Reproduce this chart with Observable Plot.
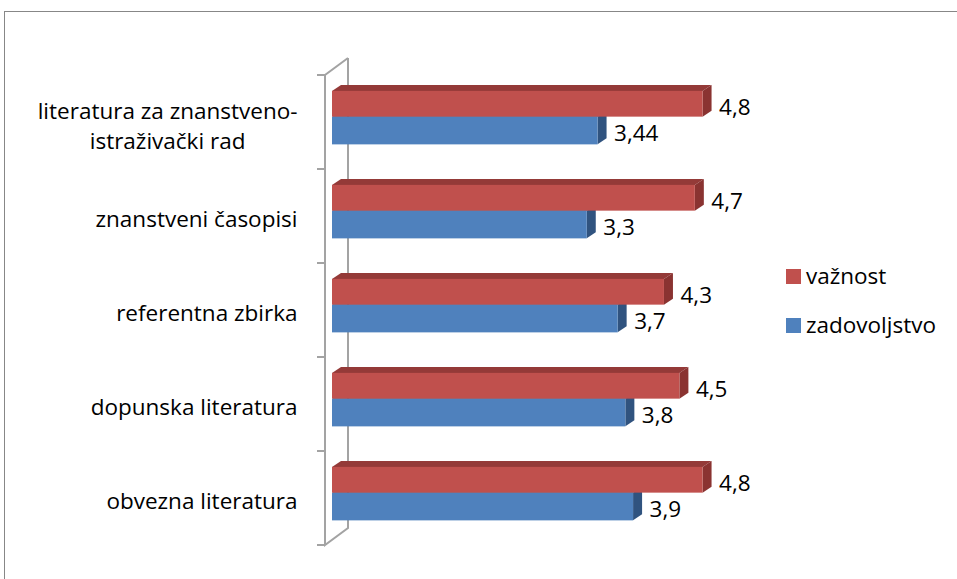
<!DOCTYPE html>
<html><head><meta charset="utf-8">
<script src="https://cdn.jsdelivr.net/npm/d3@7"></script>
<script src="https://cdn.jsdelivr.net/npm/@observablehq/plot@0.6"></script>
<style>
html,body{margin:0;padding:0;background:#fff;overflow:hidden;}
#wrap{position:relative;width:957px;height:579px;overflow:hidden;}
#frame{position:absolute;left:4px;top:11px;width:1000px;height:700px;border:1.5px solid #878787;box-sizing:border-box;}
#chart{position:absolute;left:0;top:0;}
#legend{position:absolute;left:786px;top:252px;font-family:"Open Sans",sans-serif;font-size:22.5px;color:#000;}
.item{display:flex;align-items:center;height:49px;}
.sw{width:15px;height:15px;margin-right:5px;}
.item span{position:relative;top:-1px;}
</style></head>
<body><div id="wrap"><div id="frame"></div><div id="chart"></div><div id="legend"></div></div>
<script>
const categories = ["literatura za znanstveno-istraživački rad", "znanstveni časopisi", "referentna zbirka", "dopunska literatura", "obvezna literatura"];
const categoryLabels = ["literatura za znanstveno-\nistraživački rad", "znanstveni časopisi", "referentna zbirka", "dopunska literatura", "obvezna literatura"];
const seriesNames = ["važnost", "zadovoljstvo"];
const vaznost = [4.8, 4.7, 4.3, 4.5, 4.8];
const zadovoljstvo = [3.44, 3.3, 3.7, 3.8, 3.9];
const seriesColors = {front: ["#C0504D", "#4F81BD"], top: ["#943A38", "#35598A"], side: ["#8A3331", "#30537F"]};

const FONT = "Open Sans";
const FS = 22.5;

const rows = categories.map((c, i) => ({category: c, label: categoryLabels[i], vaznost: vaznost[i], zadovoljstvo: zadovoljstvo[i]}));
const fmt = v => String(v).replace(".", ",");

const cv = document.createElement("canvas").getContext("2d");
cv.font = `${FS}px "${FONT}"`;
const multi = rows.filter(d => d.label.includes("\n"));
const single = rows.filter(d => !d.label.includes("\n"));
const maxLineW = d3.max(multi, d => d3.max(d.label.split("\n"), l => cv.measureText(l).width)) || 0;

function wall(index, {x, y}, values, dims) {
  const g = d3.create("svg:g").attr("fill", "none").attr("stroke", "#A3A3A3").attr("stroke-width", 2);
  const x0 = x(0) - 7, xb = x(0) + 16, dz = 17;
  const step = y(categories[1]) - y(categories[0]);
  const top = y(categories[0]), bot = y(categories[categories.length - 1]) + step;
  g.append("path").attr("d", `M${xb},${top - dz}V${bot - dz}L${x0},${bot}V${top}L${xb},${top - dz}`);
  const ticks = categories.map(c => y(c)).concat([bot]);
  for (const t of ticks) g.append("line").attr("x1", x0 - 8).attr("x2", x0).attr("y1", t).attr("y2", t);
  return g.node();
}

function bars3d(index, {x, y}, values, dims) {
  const g = d3.create("svg:g");
  const step = y(categories[1]) - y(categories[0]);
  const ddx = 9, ddy = 6;
  rows.forEach(d => {
    const yb = y(d.category);
    const geom = [
      {v: d.zadovoljstvo, t: yb + 0.443 * step, b: yb + 0.738 * step, k: 1},
      {v: d.vaznost, t: yb + 0.169 * step, b: yb + 0.443 * step, k: 0}
    ];
    for (const s of geom) {
      const x0 = x(0), xv = x(s.v);
      g.append("path").attr("fill", seriesColors.top[s.k])
        .attr("d", `M${x0},${s.t}L${x0 + ddx},${s.t - ddy}H${xv + ddx}L${xv},${s.t}Z`);
      g.append("path").attr("fill", seriesColors.side[s.k])
        .attr("d", `M${xv},${s.t}L${xv + ddx},${s.t - ddy}V${s.b - ddy}L${xv},${s.b}Z`);
      g.append("rect").attr("fill", seriesColors.front[s.k])
        .attr("x", x0).attr("y", s.t).attr("width", xv - x0).attr("height", s.b - s.t);
    }
  });
  return g.node();
}

const plot = Plot.plot({
  width: 957, height: 579,
  marginLeft: 332, marginRight: 239, marginTop: 73, marginBottom: 32,
  x: {domain: [0, 5], axis: null},
  y: {domain: categories, type: "band", padding: 0, axis: null},
  style: {fontFamily: FONT, fontSize: FS + "px", color: "#000", background: "transparent", overflow: "visible"},
  marks: [
    wall,
    bars3d,
    Plot.text(rows, {x: "vaznost", y: "category", text: d => fmt(d.vaznost), textAnchor: "start", dx: 16, dy: -15, fill: "#000"}),
    Plot.text(rows, {x: "zadovoljstvo", y: "category", text: d => fmt(d.zadovoljstvo), textAnchor: "start", dx: 16, dy: 11, fill: "#000"}),
    Plot.text(single, {x: 0, y: "category", text: "label", textAnchor: "end", dx: -35, dy: 3, fill: "#000"}),
    Plot.text(multi, {x: 0, y: "category", text: "label", textAnchor: "middle", dx: -35 - maxLineW / 2, dy: 2, lineHeight: 30 / FS, fill: "#000"})
  ]
});
document.getElementById("chart").appendChild(plot);

const legend = document.getElementById("legend");
seriesNames.forEach((n, i) => {
  const it = document.createElement("div"); it.className = "item";
  const sw = document.createElement("div"); sw.className = "sw"; sw.style.background = seriesColors.front[i];
  const tx = document.createElement("span"); tx.textContent = n;
  it.appendChild(sw); it.appendChild(tx); legend.appendChild(it);
});
</script></body></html>
